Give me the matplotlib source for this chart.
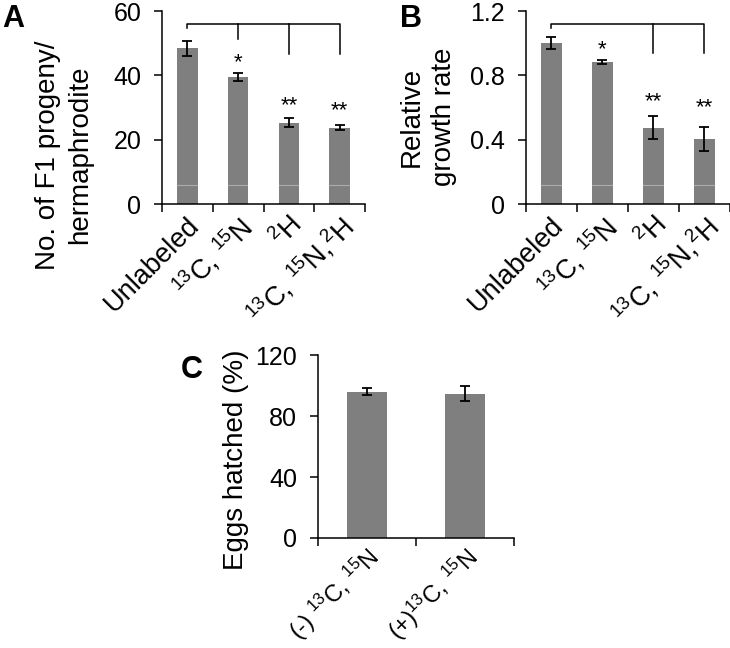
import matplotlib
matplotlib.use('Agg')
import matplotlib.pyplot as plt
from matplotlib.transforms import ScaledTranslation

plt.rcParams['font.family'] = ['Liberation Sans', 'DejaVu Sans']
plt.rcParams['mathtext.fontset'] = 'custom'
plt.rcParams['mathtext.rm'] = 'Liberation Sans'
plt.rcParams['mathtext.default'] = 'regular'

# panel A: progeny per hermaphrodite
labels_ab = ['Unlabeled', '$^{13}$C, $^{15}$N', '$^{2}$H', '$^{13}$C, $^{15}$N,$^{2}$H']
progeny = [48.4, 39.6, 25.3, 23.8]
progeny_err = [2.3, 1.2, 1.35, 0.9]
progeny_stars = ['', '*', '**', '**']
progeny_star_y = [0, 43.8, 30.5, 28.9]

# panel B: relative growth rate
growth = [1.0, 0.885, 0.475, 0.404]
growth_err = [0.037, 0.012, 0.072, 0.075]
growth_stars = ['', '*', '**', '**']
growth_star_y = [0, 0.957, 0.634, 0.597]

# panel C: eggs hatched
labels_c = ['(-) $^{13}$C, $^{15}$N', '(+)$^{13}$C, $^{15}$N']
hatched = [95.9, 94.8]
hatched_err = [2.4, 4.8]

BAR = '#7f7f7f'


def bar_panel(ax, labels, vals, errs, ymax, yticks, xsize=19.5, dx=-0.5, dy=-5.5):
    n = len(vals)
    x = list(range(n))
    ax.bar(x, vals, width=0.4, color=BAR, zorder=2)
    ax.errorbar(x, vals, yerr=errs, fmt='none', ecolor='black',
                elinewidth=1.3, capsize=3.5, capthick=1.3, zorder=3)
    ax.set_xlim(-0.5, n - 0.5)
    ax.set_ylim(0, ymax)
    ax.set_yticks(yticks)
    ax.set_yticklabels([('%g' % t) for t in yticks])
    ax.set_xticks([i - 0.5 for i in range(n + 1)])
    ax.set_xticklabels([])
    # rotated category labels, end of text near the bar centre
    off = ax.get_xaxis_transform() + ScaledTranslation(dx / 72, dy / 72, fig.dpi_scale_trans)
    for i, lab in enumerate(labels):
        ax.text(i, 0, lab, transform=off, rotation=45, rotation_mode='anchor',
                ha='right', va='top', fontsize=xsize)
    ax.tick_params(axis='x', length=6, width=1.1)
    ax.tick_params(axis='y', length=6, width=1.1, labelsize=18, pad=9)
    for s in ['top', 'right']:
        ax.spines[s].set_visible(False)
    for s in ['left', 'bottom']:
        ax.spines[s].set_linewidth(1.1)


fig = plt.figure(figsize=(7.3, 6.48), dpi=100)

# A
axA = fig.add_axes([0.222, 0.685, 0.278, 0.298])
bar_panel(axA, labels_ab, progeny, progeny_err, 60, [0, 20, 40, 60])
axA.axhline(5.9, color='white', lw=0.8, alpha=0.35, zorder=2.5)
axA.plot([0, 0, 3, 3], [54.8, 56, 56, 46.6], color='black', lw=1.1, clip_on=False)
axA.plot([1, 1], [56, 51.3], color='black', lw=1.1)
axA.plot([2, 2], [56, 46.6], color='black', lw=1.1)
for i, s in enumerate(progeny_stars):
    if s:
        axA.text(i, progeny_star_y[i], s, ha='center', va='center', fontsize=16)
axA.set_ylabel('No. of F1 progeny/\nhermaphrodite', fontsize=20, linespacing=1.3)
axA.yaxis.label.set_va('center')
axA.yaxis.set_label_coords(-0.485, 0.254)

# B
axB = fig.add_axes([0.7205, 0.685, 0.2795, 0.298])
bar_panel(axB, labels_ab, growth, growth_err, 1.2, [0, 0.4, 0.8, 1.2])
axB.axhline(0.118, color='white', lw=0.8, alpha=0.35, zorder=2.5)
axB.plot([0, 0, 3, 3], [1.095, 1.119, 1.119, 0.939], color='black', lw=1.1, clip_on=False)
axB.plot([2, 2], [1.119, 0.939], color='black', lw=1.1)
for i, s in enumerate(growth_stars):
    if s:
        axB.text(i, growth_star_y[i], s, ha='center', va='center', fontsize=16)
axB.set_ylabel('Relative\ngrowth rate', fontsize=20, linespacing=1.3)
axB.yaxis.label.set_va('center')
axB.yaxis.set_label_coords(-0.48, 0.45)

# C
axC = fig.add_axes([0.4356, 0.1698, 0.2684, 0.2822])
bar_panel(axC, labels_c, hatched, hatched_err, 120, [0, 40, 80, 120],
          xsize=17, dx=-1.5, dy=-3.5)
axC.set_ylabel('Eggs hatched (%)', fontsize=20)
axC.yaxis.label.set_va('center')
axC.yaxis.set_label_coords(-0.42, 0.43)

fig.text(0.003, 0.958, 'A', fontsize=22, fontweight='bold')
fig.text(0.548, 0.958, 'B', fontsize=22, fontweight='bold')
fig.text(0.247, 0.417, 'C', fontsize=22, fontweight='bold')

fig.savefig('out.png', dpi=100)
